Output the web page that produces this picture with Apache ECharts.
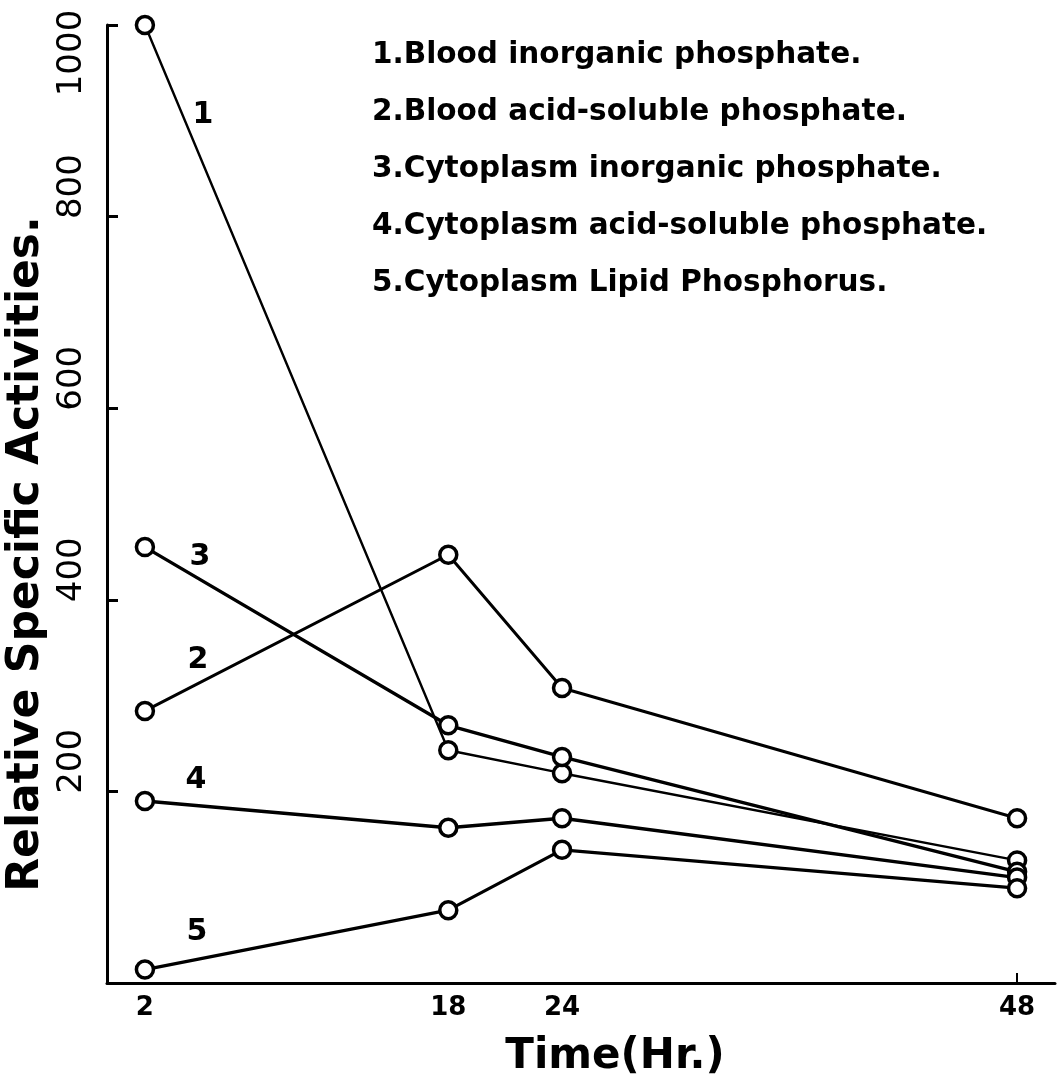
<!DOCTYPE html>
<html>
<head>
<meta charset="utf-8">
<script src="https://cdn.jsdelivr.net/npm/echarts@6/dist/echarts.min.js"></script>
<style>
html,body{margin:0;padding:0;background:#fff;}
#chart{width:1064px;height:1080px;}
</style>
</head>
<body>
<div id="chart"></div>
<script>
// ---- data ----
var hours = [2, 18, 24, 48];
var seriesNames = [
  'Blood inorganic phosphate.',
  'Blood acid-soluble phosphate.',
  'Cytoplasm inorganic phosphate.',
  'Cytoplasm acid-soluble phosphate.',
  'Cytoplasm Lipid Phosphorus.'
];
var bloodInorganic = [1000, 243, 219, 128];
var bloodAcidSoluble = [284, 447, 308, 172];
var cytoInorganic = [455, 269, 236, 116];
var cytoAcidSoluble = [190, 162, 172, 110];
var cytoLipid = [14, 76, 139, 99];
var yTicks = [0, 200, 400, 600, 800, 1000];
var xTicks = [2, 18, 24, 48];
var xTitle = 'Time(Hr.)';
var yTitle = 'Relative Specific Activities.';

var allValues = [bloodInorganic, bloodAcidSoluble, cytoInorganic, cytoAcidSoluble, cytoLipid];
var lineWidths = [2.4, 3, 3.4, 3.4, 3.2];

function pairs(vals) {
  return hours.map(function (h, i) { return [h, vals[i]]; });
}

var chart = echarts.init(document.getElementById('chart'));
var series = allValues.map(function (vals, i) {
  return {
    name: seriesNames[i],
    type: 'line',
    data: pairs(vals),
    symbol: 'circle',
    symbolSize: 17,
    lineStyle: { color: '#000', width: lineWidths[i] },
    itemStyle: { color: '#fff', borderColor: '#000', borderWidth: 3.5 },
    z: 2 + i,
    animation: false
  };
});

var legendFont = '"DejaVu Sans", sans-serif';
var legendItems = seriesNames.map(function (n, i) {
  return {
    type: 'text',
    left: 372,
    top: 40 + i * 57,
    style: { text: (i + 1) + '.' + n, font: 'bold 29.5px ' + legendFont, fill: '#000' }
  };
});

var numLabels = [
  { t: '1', x: 203, y: 115 },
  { t: '2', x: 198, y: 660 },
  { t: '3', x: 200, y: 557 },
  { t: '4', x: 196, y: 780 },
  { t: '5', x: 197, y: 932 }
].map(function (d) {
  return {
    type: 'text', x: d.x, y: d.y,
    style: { text: d.t, font: 'bold 30px "DejaVu Sans", sans-serif', fill: '#000', align: 'center', verticalAlign: 'middle' }
  };
});

var xTitleGraphic = {
  type: 'text', x: 615, y: 1057,
  style: { text: xTitle, font: 'bold 42px "DejaVu Sans", sans-serif', fill: '#000', align: 'center', verticalAlign: 'middle' }
};

chart.setOption({
  backgroundColor: '#fff',
  animation: false,
  grid: { left: 107, right: 9, top: 25, bottom: 97, containLabel: false, outerBoundsMode: 'none' },
  xAxis: {
    type: 'value',
    min: 0, max: 50,
    axisLine: { lineStyle: { color: '#000', width: 3 } },
    axisTick: { show: true, inside: true, length: 10, lineStyle: { color: '#000', width: 2 }, customValues: [48] },
    axisLabel: { customValues: xTicks, fontFamily: 'DejaVu Sans', fontWeight: 'bold', fontSize: 26, color: '#000', margin: 12 },
    splitLine: { show: false }
  },
  yAxis: {
    type: 'value',
    min: 0, max: 1000, interval: 200,
    name: yTitle,
    nameLocation: 'middle',
    nameGap: 58,
    nameMoveOverlap: false,
    nameRotate: 90,
    nameTextStyle: { fontFamily: 'DejaVu Sans', fontWeight: 'bold', fontSize: 44, color: '#000', padding: [0, 100, 0, 0] },
    axisLine: { lineStyle: { color: '#000', width: 3 } },
    axisTick: { show: true, inside: true, length: 11, lineStyle: { color: '#000', width: 3 } },
    axisLabel: {
      rotate: 90,
      margin: 18,
      color: '#000',
      formatter: function (v) { return v === 0 ? '' : (v === 1000 ? '{top|' + v + '}' : '{n|' + v + '}'); },
      rich: {
        n: { fontFamily: 'DejaVu Sans', fontSize: 34, color: '#000', padding: [0, 0, 0, 60] },
        top: { fontFamily: 'DejaVu Sans', fontSize: 34, color: '#000', padding: [0, 56, 0, 0] }
      }
    },
    splitLine: { show: false }
  },
  series: series,
  graphic: legendItems.concat(numLabels).concat([xTitleGraphic])
});
</script>
</body>
</html>
